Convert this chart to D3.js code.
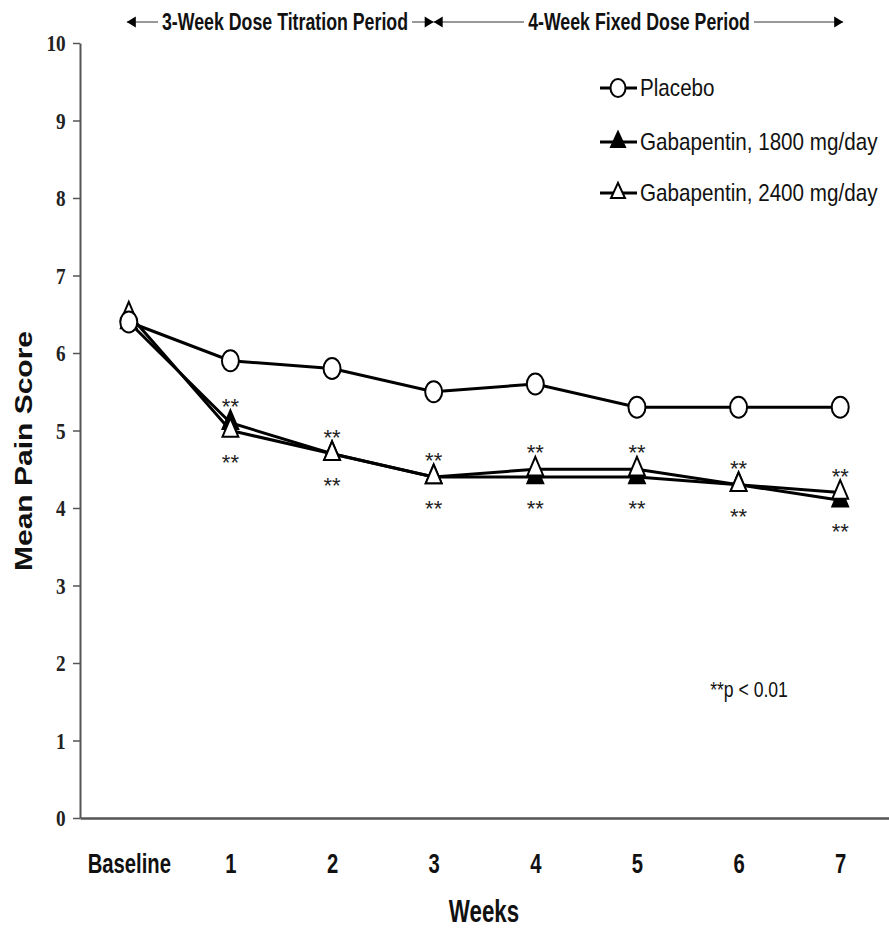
<!DOCTYPE html>
<html>
<head>
<meta charset="utf-8">
<script src="https://cdn.jsdelivr.net/npm/d3@7"></script>
<style>
  body { margin: 0; background: #fff; }
  svg { display: block; }
</style>
</head>
<body>
<script>
// data
const weeks = ["Baseline", "1", "2", "3", "4", "5", "6", "7"];
const placebo = [6.4, 5.9, 5.8, 5.5, 5.6, 5.3, 5.3, 5.3];
const gaba1800 = [6.4, 5.1, 4.7, 4.4, 4.4, 4.4, 4.3, 4.1];
const gaba2400 = [6.5, 5.0, 4.7, 4.4, 4.5, 4.5, 4.3, 4.2];
const sigWeeks = ["1", "2", "3", "4", "5", "6", "7"];
const yTicks = [0, 1, 2, 3, 4, 5, 6, 7, 8, 9, 10];
const legendLabels = ["Placebo", "Gabapentin, 1800 mg/day", "Gabapentin, 2400 mg/day"];

const W = 889, H = 928;
const svg = d3.select("body").append("svg").attr("width", W).attr("height", H);

const x = d3.scalePoint().domain(weeks).range([80, 889]).padding(0.48);
const y = d3.scaleLinear().domain([0, 10]).range([818, 43]);

const sans = "Liberation Sans, Arial, sans-serif";

// axes
const yAxis = svg.append("g")
    .attr("transform", "translate(80,0)")
    .call(d3.axisLeft(y).tickValues(yTicks).tickSize(7).tickSizeOuter(0).tickPadding(11));
yAxis.select(".domain").attr("stroke", "#555").attr("stroke-width", 2);
yAxis.selectAll(".tick line").attr("stroke", "#555").attr("stroke-width", 1.5);
yAxis.selectAll(".tick text")
    .attr("font-family", "Liberation Serif, serif")
    .attr("font-weight", "bold")
    .attr("font-size", 24)
    .attr("fill", "#222")
    .attr("transform", "scale(0.8,1)");

const xAxis = svg.append("g")
    .attr("transform", "translate(0,818)")
    .call(d3.axisBottom(x).tickSize(0).tickSizeOuter(0).tickPadding(36));
xAxis.select(".domain").attr("stroke", "#555").attr("stroke-width", 2.5);
xAxis.selectAll(".tick text")
    .attr("font-family", sans)
    .attr("font-weight", "bold")
    .attr("font-size", 27)
    .attr("fill", "#111")
    .attr("transform", "scale(0.75,1)");

// axis titles
svg.append("text")
    .attr("transform", "translate(484,922) scale(0.72,1)")
    .attr("text-anchor", "middle")
    .attr("font-family", sans)
    .attr("font-weight", "bold").attr("font-size", 31).attr("fill", "#111")
    .text("Weeks");

svg.append("text")
    .attr("transform", "translate(32,451) rotate(-90) scale(1.25,1)")
    .attr("text-anchor", "middle")
    .attr("font-family", sans)
    .attr("font-weight", "bold").attr("font-size", 24).attr("fill", "#111")
    .text("Mean Pain Score");

// lines
const line = d3.line().x((d, i) => x(weeks[i])).y(d => y(d));
[placebo, gaba1800, gaba2400].forEach(s => {
  svg.append("path").datum(s)
      .attr("d", line)
      .attr("fill", "none")
      .attr("stroke", "#000")
      .attr("stroke-width", 3);
});

// markers
const tri = d3.symbol(d3.symbolTriangle, 150)();
function triangles(s, fill) {
  svg.append("g").selectAll("path").data(s).join("path")
      .attr("d", tri)
      .attr("transform", (d, i) => `translate(${x(weeks[i])},${y(d)}) scale(0.85,1.15)`)
      .attr("fill", fill)
      .attr("stroke", "#000")
      .attr("stroke-width", 2)
      .attr("vector-effect", "non-scaling-stroke");
}
triangles(gaba1800, "#000");
triangles(gaba2400, "#fff");

svg.append("g").selectAll("ellipse").data(placebo).join("ellipse")
    .attr("cx", (d, i) => x(weeks[i]))
    .attr("cy", d => y(d))
    .attr("rx", 8.5).attr("ry", 10.5)
    .attr("fill", "#fff").attr("stroke", "#000").attr("stroke-width", 2);

// significance stars
sigWeeks.forEach(w => {
  const i = weeks.indexOf(w);
  const top = Math.min(y(gaba1800[i]), y(gaba2400[i]));
  const bot = Math.max(y(gaba1800[i]), y(gaba2400[i]));
  [top - 21 + 12, bot + 27 + 12].forEach(yy => {
    svg.append("text")
        .attr("x", x(w)).attr("y", yy)
        .attr("text-anchor", "middle")
        .attr("font-family", sans).attr("font-size", 22).attr("fill", "#222")
        .text("**");
  });
});

svg.append("text")
    .attr("transform", "translate(749,697) scale(0.8,1)")
    .attr("text-anchor", "middle")
    .attr("font-family", sans).attr("font-size", 22).attr("fill", "#111")
    .text("**p < 0.01");

// legend
const legend = svg.append("g");
legendLabels.forEach((lab, k) => {
  const ly = [88, 142, 193][k];
  const g = legend.append("g").attr("transform", `translate(618,${ly})`);
  g.append("line").attr("x1", -18).attr("x2", 19).attr("stroke", "#000").attr("stroke-width", 3);
  if (k === 0) {
    g.append("ellipse").attr("rx", 7.5).attr("ry", 9).attr("fill", "#fff").attr("stroke", "#000").attr("stroke-width", 2);
  } else {
    g.append("path").attr("d", tri)
        .attr("transform", "scale(0.75,0.95)")
        .attr("fill", k === 1 ? "#000" : "#fff")
        .attr("stroke", "#000").attr("stroke-width", 2)
        .attr("vector-effect", "non-scaling-stroke");
  }
  g.append("text")
      .attr("transform", "translate(22,8) scale(0.86,1)")
      .attr("font-family", sans).attr("font-size", 24).attr("fill", "#111")
      .text(lab);
});

// period header
const hy = 22;
const x0 = x("Baseline") - 2, x3 = x("3"), x7 = x("7") + 3;
function head(px, dir) {
  svg.append("path")
      .attr("d", d3.line()([[px, hy], [px - dir * 9, hy - 5.5], [px - dir * 9, hy + 5.5]]) + "Z")
      .attr("fill", "#000");
}
svg.append("line").attr("x1", x0).attr("x2", x3).attr("y1", hy).attr("y2", hy)
    .attr("stroke", "#777").attr("stroke-width", 1.5);
svg.append("line").attr("x1", x3).attr("x2", x7).attr("y1", hy).attr("y2", hy)
    .attr("stroke", "#777").attr("stroke-width", 1.5);
head(x0, -1);
head(x3, 1);
head(x3, -1);
head(x7, 1);

[["3-Week Dose Titration Period", 285, 250], ["4-Week Fixed Dose Period", 639, 226]].forEach(([t, cx, wd]) => {
  svg.append("rect").attr("x", cx - wd / 2 - 2).attr("y", hy - 12).attr("width", wd + 4).attr("height", 24).attr("fill", "#fff");
  svg.append("text")
      .attr("transform", `translate(${cx},${hy + 8}) scale(0.74,1)`)
      .attr("text-anchor", "middle")
      .attr("font-family", sans).attr("font-weight", "bold")
      .attr("font-size", 24).attr("fill", "#111")
      .text(t);
});
</script>
</body>
</html>
